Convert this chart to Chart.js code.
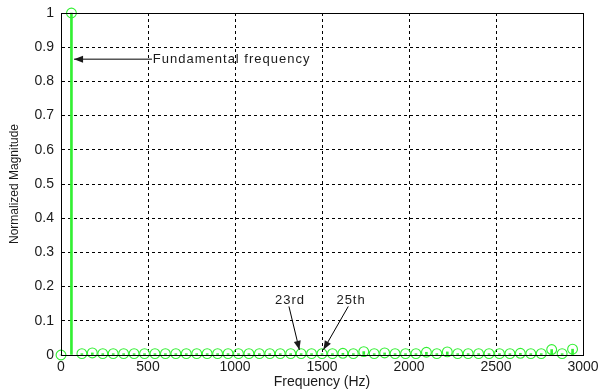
<!DOCTYPE html>
<html>
<head>
<meta charset="utf-8">
<script src="https://cdn.jsdelivr.net/npm/chart.js@4.4.1/dist/chart.umd.min.js"></script>
<style>
  html, body { margin: 0; padding: 0; background: #fff; }
  #wrap { width: 598px; height: 391px; }
</style>
</head>
<body>
<div id="wrap"><canvas id="c" width="598" height="391"></canvas></div>
<script>
// harmonic spectrum, stems every 60 Hz
const freqs = [0, 60, 120, 180, 240, 300, 360, 420, 480, 540,
    600, 660, 720, 780, 840, 900, 960, 1020, 1080, 1140,
    1200, 1260, 1320, 1380, 1440, 1500, 1560, 1620, 1680, 1740,
    1800, 1860, 1920, 1980, 2040, 2100, 2160, 2220, 2280, 2340,
    2400, 2460, 2520, 2580, 2640, 2700, 2760, 2820, 2880, 2940];
const magnitudes = [0, 1, 0.004, 0.006, 0.004, 0.004, 0.004, 0.004, 0.004, 0.004,
    0.004, 0.004, 0.004, 0.004, 0.004, 0.004, 0.004, 0.004, 0.004, 0.004,
    0.004, 0.004, 0.004, 0.004, 0.004, 0.004, 0.004, 0.005, 0.004, 0.010,
    0.004, 0.006, 0.004, 0.004, 0.004, 0.008, 0.004, 0.009, 0.004, 0.004,
    0.004, 0.004, 0.004, 0.004, 0.005, 0.004, 0.004, 0.016, 0.004, 0.017];

const xTickLabels = ['0', '500', '1000', '1500', '2000', '2500', '3000'];
const yTickLabels = ['0', '0.1', '0.2', '0.3', '0.4', '0.5', '0.6', '0.7', '0.8', '0.9', '1'];

// text callouts: label, text pos, arrow tail, arrow tip (data units)
const callouts = [
    { text: 'Fundamental frequency', tx: 528, ty: 0.865, align: 'left', x0: 523, y0: 0.865, x1: 75, y1: 0.865 },
    { text: '23rd', tx: 1316, ty: 0.161, align: 'center', x0: 1310, y0: 0.142, x1: 1370, y1: 0.015 },
    { text: '25th', tx: 1667, ty: 0.161, align: 'center', x0: 1651, y0: 0.142, x1: 1508, y1: 0.015 }
];

const GREEN = '#33f033';
const INK = '#1a1a1a';
const FAMILY = "'Liberation Sans', Arial, sans-serif";
const TICK_FONT = { family: FAMILY, size: 14 };

const points = freqs.map((f, i) => ({ x: f, y: magnitudes[i] }));

const frameAndNotes = {
    id: 'frameAndNotes',
    afterDraw(chart) {
        const { ctx, chartArea: a, scales: { x, y } } = chart;
        ctx.save();
        ctx.strokeStyle = '#000';
        ctx.lineWidth = 1;
        ctx.setLineDash([]);
        ctx.strokeRect(a.left + 0.5, a.top + 0.5, a.right - a.left, a.bottom - a.top);

        ctx.font = "13px " + FAMILY;
        ctx.letterSpacing = '1px';
        ctx.fillStyle = INK;
        ctx.textBaseline = 'middle';
        callouts.forEach(c => {
            const px0 = x.getPixelForValue(c.x0), py0 = y.getPixelForValue(c.y0);
            const px1 = x.getPixelForValue(c.x1), py1 = y.getPixelForValue(c.y1);
            ctx.beginPath();
            ctx.moveTo(px0, py0);
            ctx.lineTo(px1, py1);
            ctx.stroke();
            const ang = Math.atan2(py1 - py0, px1 - px0);
            const len = 9, w = 3.5;
            ctx.beginPath();
            ctx.moveTo(px1, py1);
            ctx.lineTo(px1 - len * Math.cos(ang) + w * Math.sin(ang), py1 - len * Math.sin(ang) - w * Math.cos(ang));
            ctx.lineTo(px1 - len * Math.cos(ang) - w * Math.sin(ang), py1 - len * Math.sin(ang) + w * Math.cos(ang));
            ctx.closePath();
            ctx.fill();
            ctx.textAlign = c.align;
            ctx.fillText(c.text, x.getPixelForValue(c.tx), y.getPixelForValue(c.ty));
        });
        ctx.restore();
    }
};

new Chart(document.getElementById('c'), {
    type: 'bar',
    data: {
        datasets: [
            {
                type: 'scatter',
                data: points,
                pointStyle: 'circle',
                pointRadius: 4.9,
                pointBorderWidth: 1.1,
                pointBorderColor: GREEN,
                pointBackgroundColor: 'rgba(0,0,0,0)',
                showLine: false,
                clip: false,
                order: 0
            },
            {
                type: 'bar',
                data: points,
                backgroundColor: GREEN,
                barThickness: 2,
                clip: false,
                order: 1
            }
        ]
    },
    options: {
        responsive: false,
        animation: false,
        layout: { autoPadding: false, padding: { top: 13, right: 15, left: 0, bottom: 0 } },
        plugins: { legend: { display: false }, tooltip: { enabled: false } },
        scales: {
            x: {
                type: 'linear',
                min: 0, max: 3000,
                offset: false,
                afterFit: s => { s.height = 36; s.paddingLeft = 0; s.paddingRight = 0; },
                grid: { offset: false, color: '#000', lineWidth: 1, drawTicks: false },
                border: { display: true, color: '#000', dash: [3, 3] },
                ticks: {
                    stepSize: 500, color: INK, font: TICK_FONT, padding: 4, maxRotation: 0, autoSkip: false,
                    callback: (v, i) => xTickLabels[i]
                },
                title: { display: true, text: 'Frequency (Hz)', color: INK, font: { family: FAMILY, size: 14 }, padding: { top: 2, bottom: 0 } }
            },
            y: {
                min: 0, max: 1,
                afterFit: s => { s.width = 61; s.paddingTop = 0; s.paddingBottom = 0; },
                grid: { color: '#000', lineWidth: 1, drawTicks: false },
                border: { display: true, color: '#000', dash: [3, 3] },
                ticks: {
                    stepSize: 0.1, color: INK, font: TICK_FONT, padding: 7, autoSkip: false,
                    callback: (v, i) => yTickLabels[i]
                },
                title: { display: true, text: 'Normalized Magnitude', color: INK, font: { family: FAMILY, size: 12 }, padding: { top: 7, bottom: 0 } }
            }
        }
    },
    plugins: [frameAndNotes]
});
</script>
</body>
</html>
